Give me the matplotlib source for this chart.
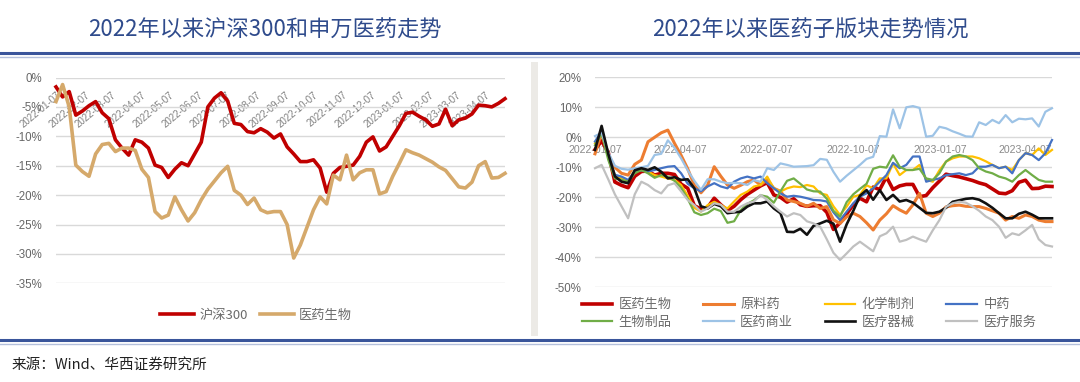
import matplotlib
matplotlib.use('Agg')
import matplotlib.pyplot as plt
import pandas as pd
from matplotlib.lines import Line2D
from matplotlib.patches import Rectangle
from matplotlib.ticker import FixedLocator, FuncFormatter

# ---------------- data ----------------
start_date = '2022-01-07'
n_weeks = 70

hs300 = [-1.6, -3.3, -2.4, -6.4, -5.7, -4.8, -4.1, -6.0, -7.0, -10.6,
         -12.0, -13.2, -10.6, -11.0, -12.0, -14.9, -15.3, -17.0, -15.6, -14.5,
         -15.0, -13.0, -11.0, -5.0, -3.5, -2.6, -4.0, -7.8, -8.0, -9.2,
         -9.4, -8.7, -9.3, -10.3, -9.6, -11.8, -13.0, -14.3, -14.3, -14.0,
         -15.4, -19.5, -16.3, -15.3, -15.1, -14.9, -13.4, -11.0, -10.1, -12.5,
         -11.8, -10.0, -8.2, -6.1, -5.9, -6.6, -7.2, -8.3, -7.9, -5.4,
         -8.2, -7.2, -6.9, -6.2, -4.7, -4.8, -5.0, -4.4, -3.6]

yiyao = [-4.1, -1.2, -5.0, -14.9, -16.0, -16.8, -13.0, -11.4, -11.2, -12.6,
         -12.0, -12.0, -12.4, -15.6, -17.0, -22.8, -23.9, -23.4, -20.3, -22.5,
         -24.4, -23.0, -20.8, -19.0, -17.6, -16.2, -15.1, -19.2, -20.0, -21.6,
         -20.5, -22.5, -23.0, -22.8, -22.8, -25.0, -30.7, -28.5, -25.5, -22.5,
         -20.3, -21.5, -16.6, -17.4, -13.2, -17.4, -16.2, -15.7, -15.7, -19.8,
         -19.4, -16.8, -14.6, -12.3, -12.8, -13.2, -13.8, -14.4, -15.2, -15.8,
         -17.2, -18.6, -18.8, -17.8, -15.0, -14.3, -17.1, -17.0, -16.3, -16.4]

yuanliao = [-5.5, 1.5, -6.0, -10.0, -12.0, -12.6, -9.0, -7.6, -1.5, 0.0,
            1.5, 2.4, -2.0, -6.0, -10.5, -16.0, -18.5, -16.0, -9.8, -13.0,
            -15.9, -17.0, -16.0, -14.8, -14.2, -15.9, -14.2, -17.0, -18.0, -20.9,
            -21.4, -22.0, -23.0, -22.0, -23.7, -23.1, -27.5, -28.7, -26.5, -25.3,
            -26.4, -28.5, -30.9, -27.6, -25.5, -22.8, -24.2, -25.3, -22.5, -18.7,
            -25.3, -26.4, -25.3, -23.2, -22.8, -22.6, -23.0, -23.1, -23.1, -23.7,
            -24.5, -25.3, -27.6, -26.4, -27.0, -25.9, -26.4, -27.6, -28.1, -28.1]

huaxue = [-2.0, 1.5, -6.4, -12.5, -13.7, -14.8, -11.0, -10.9, -11.4, -12.6,
          -13.1, -13.7, -14.2, -15.9, -19.5, -23.5, -24.8, -22.6, -21.5, -22.6,
          -23.7, -21.4, -19.2, -18.1, -16.4, -15.9, -13.1, -17.0, -18.1, -17.0,
          -16.4, -16.6, -15.9, -16.4, -18.7, -19.2, -23.0, -25.9, -23.1, -19.8,
          -19.2, -16.0, -17.0, -13.7, -13.7, -8.7, -12.6, -10.9, -10.9, -9.2,
          -14.2, -14.8, -11.0, -8.1, -7.0, -6.4, -6.4, -6.4, -7.0, -8.0,
          -9.2, -10.3, -9.8, -10.9, -7.6, -5.3, -5.9, -3.7, -5.9, -4.2]

zhongyao = [-1.4, 2.0, -6.0, -12.5, -13.1, -14.2, -11.4, -11.0, -11.4, -10.9,
            -10.3, -9.8, -9.6, -12.0, -15.5, -17.0, -18.0, -16.4, -15.3, -16.4,
            -17.0, -14.8, -13.7, -13.1, -13.7, -13.1, -15.3, -17.0, -18.7, -19.8,
            -19.5, -19.8, -20.3, -20.9, -21.0, -21.4, -25.0, -27.6, -24.8, -22.0,
            -19.8, -18.7, -17.0, -14.8, -12.6, -8.5, -10.3, -9.2, -6.4, -6.4,
            -14.8, -14.2, -13.7, -12.6, -12.3, -12.0, -12.6, -12.0, -9.8, -9.8,
            -9.2, -10.3, -9.8, -12.0, -7.6, -5.3, -5.9, -7.6, -5.3, -0.9]

shengwu = [-2.6, 1.3, -7.5, -13.7, -14.2, -14.8, -12.0, -10.9, -12.0, -13.5,
           -12.6, -13.1, -14.5, -16.8, -20.5, -25.0, -25.9, -25.3, -23.8, -24.6,
           -28.5, -28.0, -24.3, -22.2, -21.0, -19.3, -19.8, -21.8, -18.0, -14.5,
           -13.7, -15.5, -17.4, -18.0, -18.1, -20.5, -24.5, -26.5, -21.6, -19.0,
           -17.2, -15.5, -10.5, -9.8, -10.1, -6.0, -9.8, -10.9, -10.9, -10.5,
           -13.7, -14.2, -12.0, -8.1, -6.4, -5.9, -6.4, -7.6, -10.3, -11.4,
           -12.0, -13.1, -13.7, -14.8, -12.6, -10.9, -12.6, -14.2, -14.8, -14.8]

shangye = [0.4, 1.5, -5.0, -9.5, -10.5, -10.8, -10.3, -10.0, -9.5, -5.9,
           -5.5, -1.0, -3.5, -7.0, -11.0, -14.5, -17.5, -14.0, -14.0, -14.8,
           -15.3, -15.2, -15.3, -15.9, -14.3, -14.8, -10.3, -10.9, -8.7, -9.2,
           -9.8, -9.7, -9.6, -9.3, -7.2, -7.5, -11.5, -14.8, -12.8, -11.0,
           -9.2, -7.2, -6.5, 0.4, 0.2, 9.3, 3.0, 10.0, 10.4, 9.8,
           0.2, 0.5, 3.5, 3.0, 2.0, 1.2, 0.3, 0.2, 5.0, 4.1,
           5.8, 4.7, 7.4, 5.0, 6.2, 6.0, 6.3, 3.6, 8.5, 9.7]

qixie = [-4.2, 3.8, -5.5, -13.0, -14.8, -15.3, -11.0, -10.3, -10.9, -10.0,
         -11.5, -13.7, -13.3, -14.2, -14.0, -17.0, -23.0, -23.7, -22.2, -23.0,
         -25.3, -25.0, -24.8, -23.1, -22.0, -22.0, -21.4, -23.7, -25.3, -31.5,
         -31.6, -30.5, -32.5, -29.5, -28.7, -27.8, -28.8, -34.8, -29.0, -24.5,
         -19.5, -17.6, -20.8, -17.6, -20.9, -19.2, -21.4, -20.9, -21.8, -23.5,
         -25.2, -25.3, -24.8, -23.5, -21.5, -21.0, -20.5, -20.3, -20.8, -22.0,
         -23.5, -25.3, -27.0, -27.0, -25.5, -24.8, -25.8, -27.0, -27.0, -27.0]

fuwu = [-10.3, -9.2, -14.0, -19.0, -23.0, -27.0, -19.0, -14.8, -15.9, -17.6,
        -18.7, -16.0, -15.3, -18.0, -20.9, -22.6, -24.8, -23.7, -22.0, -22.5,
        -24.8, -24.8, -23.1, -22.0, -21.4, -19.2, -20.9, -23.0, -24.8, -26.4,
        -25.3, -25.9, -28.0, -28.7, -29.8, -34.0, -38.5, -40.9, -38.7, -36.4,
        -34.8, -36.4, -38.0, -33.0, -32.0, -29.8, -34.8, -34.2, -33.1, -34.0,
        -34.8, -31.0, -27.6, -23.2, -22.0, -21.5, -21.8, -23.0, -24.5, -26.4,
        -27.6, -29.8, -33.5, -32.0, -32.6, -31.0, -29.2, -34.0, -35.9, -36.4]

left_tick_labels = ['2022-01-07', '2022-02-07', '2022-03-07', '2022-04-07',
                    '2022-05-07', '2022-06-07', '2022-07-07', '2022-08-07',
                    '2022-09-07', '2022-10-07', '2022-11-07', '2022-12-07',
                    '2023-01-07', '2023-02-07', '2023-03-07', '2023-04-07']
right_tick_labels = ['2022-01-07', '2022-04-07', '2022-07-07', '2022-10-07',
                     '2023-01-07', '2023-04-07']

left_names = ['沪深300', '医药生物']
right_names = ['医药生物', '原料药', '化学制剂', '中药', '生物制品', '医药商业', '医疗器械', '医疗服务']
right_series = [yiyao, yuanliao, huaxue, zhongyao, shengwu, shangye, qixie, fuwu]

title_left = '2022年以来沪深300和申万医药走势'
title_right = '2022年以来医药子版块走势情况'
source = '来源：Wind、华西证券研究所'

# ---------------- styles ----------------
CJK = ['Noto Sans CJK SC', 'DejaVu Sans']
plt.rcParams['font.family'] = ['Liberation Sans', 'Noto Sans CJK SC', 'DejaVu Sans']
right_colors = ['#C00000', '#ED7D31', '#FFC000', '#4472C4', '#70AD47', '#9DC3E6', '#111111', '#C0C0C0']
right_lw = [2.6, 2.2, 1.6, 1.6, 1.6, 1.6, 1.9, 1.6]
grid_c = '#D9D9D9'
tick_c = '#666666'

W, H = 1080, 382
def fx(px):
    return px / W
def fy(py):
    return 1 - py / H

dates = pd.date_range(start_date, periods=n_weeks, freq='7D')
dates_left = dates[:len(hs300)]

fig = plt.figure(figsize=(W / 100, H / 100), dpi=100)
fig.patch.set_facecolor('white')

def style_axis(ax, ymin, ymax, step, ypad):
    ax.set_ylim(ymin, ymax)
    ax.yaxis.set_major_locator(FixedLocator(list(range(ymin, ymax + 1, step))))
    ax.yaxis.set_major_formatter(FuncFormatter(lambda v, p: f'{int(round(v))}%'))
    for s in ax.spines.values():
        s.set_visible(False)
    ax.spines['bottom'].set_position(('data', 0))
    ax.yaxis.grid(True, color=grid_c, lw=1.0)
    ax.xaxis.grid(False)
    ax.set_axisbelow(True)
    ax.tick_params(axis='y', length=0, pad=ypad, labelsize=8.3, labelcolor=tick_c)
    ax.tick_params(axis='x', length=0)
    ax.set_facecolor('none')

# ---- left chart ----
axL = fig.add_axes([fx(56), fy(283.3), fx(505) - fx(56), fy(77.5) - fy(283.3)])
style_axis(axL, -35, 0, 5, 10)
lh1, = axL.plot(dates_left, hs300, color='#C00000', lw=2.6, solid_joinstyle='round', clip_on=False)
lh2, = axL.plot(dates_left, yiyao[:len(hs300)], color='#D5A96B', lw=2.6, solid_joinstyle='round', clip_on=False)
axL.set_xlim(dates_left[0], dates_left[-1])
lt = [pd.Timestamp(s) for s in left_tick_labels]
axL.set_xticks(lt)
axL.set_xticklabels(left_tick_labels)
axL.tick_params(axis='x', pad=9, labelsize=7, labelcolor='#808080')
for t in axL.get_xticklabels():
    t.set_rotation(40)
    t.set_ha('right')
    t.set_va('top')
    t.set_rotation_mode('anchor')

fig.legend([lh1, lh2], left_names, loc='center', bbox_to_anchor=(fx(256), fy(315)),
           ncol=2, frameon=False, handlelength=2.6, handletextpad=0.4, columnspacing=0.9,
           prop={'family': CJK, 'size': 9.5}, labelcolor='#6b6b6b')

# ---- right chart ----
axR = fig.add_axes([fx(595), fy(287.3), fx(1052) - fx(595), fy(77.3) - fy(287.3)])
style_axis(axR, -50, 20, 10, 9.5)
handles = []
for vals, c, lw in zip(right_series, right_colors, right_lw):
    h, = axR.plot(dates, vals, color=c, lw=lw, solid_joinstyle='round', clip_on=False)
    handles.append(h)
axR.set_xlim(dates[0], dates[-1])
rt = [pd.Timestamp(s) for s in right_tick_labels]
axR.set_xticks(rt)
axR.set_xticklabels(right_tick_labels)
axR.tick_params(axis='x', pad=5.5, labelsize=7.6, labelcolor='#8a8a8a')

order = [0, 4, 1, 5, 2, 6, 3, 7]
fig.legend([handles[i] for i in order], [right_names[i] for i in order], loc='center',
           bbox_to_anchor=(fx(809), fy(313.5)), ncol=4, frameon=False,
           handlelength=2.3, handletextpad=0.5, columnspacing=2.4, labelspacing=0.35,
           prop={'family': CJK, 'size': 9.5}, labelcolor='#6b6b6b')

# ---- titles / decorations ----
fig.text(fx(265), fy(30), title_left, ha='center', va='center', fontsize=16,
         color='#2F4B8C', family=CJK)
fig.text(fx(810), fy(30), title_right, ha='center', va='center', fontsize=16,
         color='#2F4B8C', family=CJK)
fig.add_artist(Line2D([0, 1], [fy(53), fy(53)], transform=fig.transFigure, color='#3A559B', lw=2.2))
fig.add_artist(Line2D([0, 1], [fy(56.5), fy(56.5)], transform=fig.transFigure, color='#B4C0DC', lw=1.0))
fig.add_artist(Line2D([0, 1], [fy(340), fy(340)], transform=fig.transFigure, color='#3A559B', lw=2.2))
fig.add_artist(Line2D([0, 1], [fy(343.5), fy(343.5)], transform=fig.transFigure, color='#B4C0DC', lw=1.0))
fig.add_artist(Rectangle((fx(531), fy(336)), fx(7), fy(62) - fy(336), transform=fig.transFigure,
                         facecolor='#ECEAE6', edgecolor='none'))
fig.text(fx(12), fy(365), source, ha='left', va='center', fontsize=10.5, color='#222222', family=CJK)

fig.savefig('out.png', dpi=100, facecolor='white')
